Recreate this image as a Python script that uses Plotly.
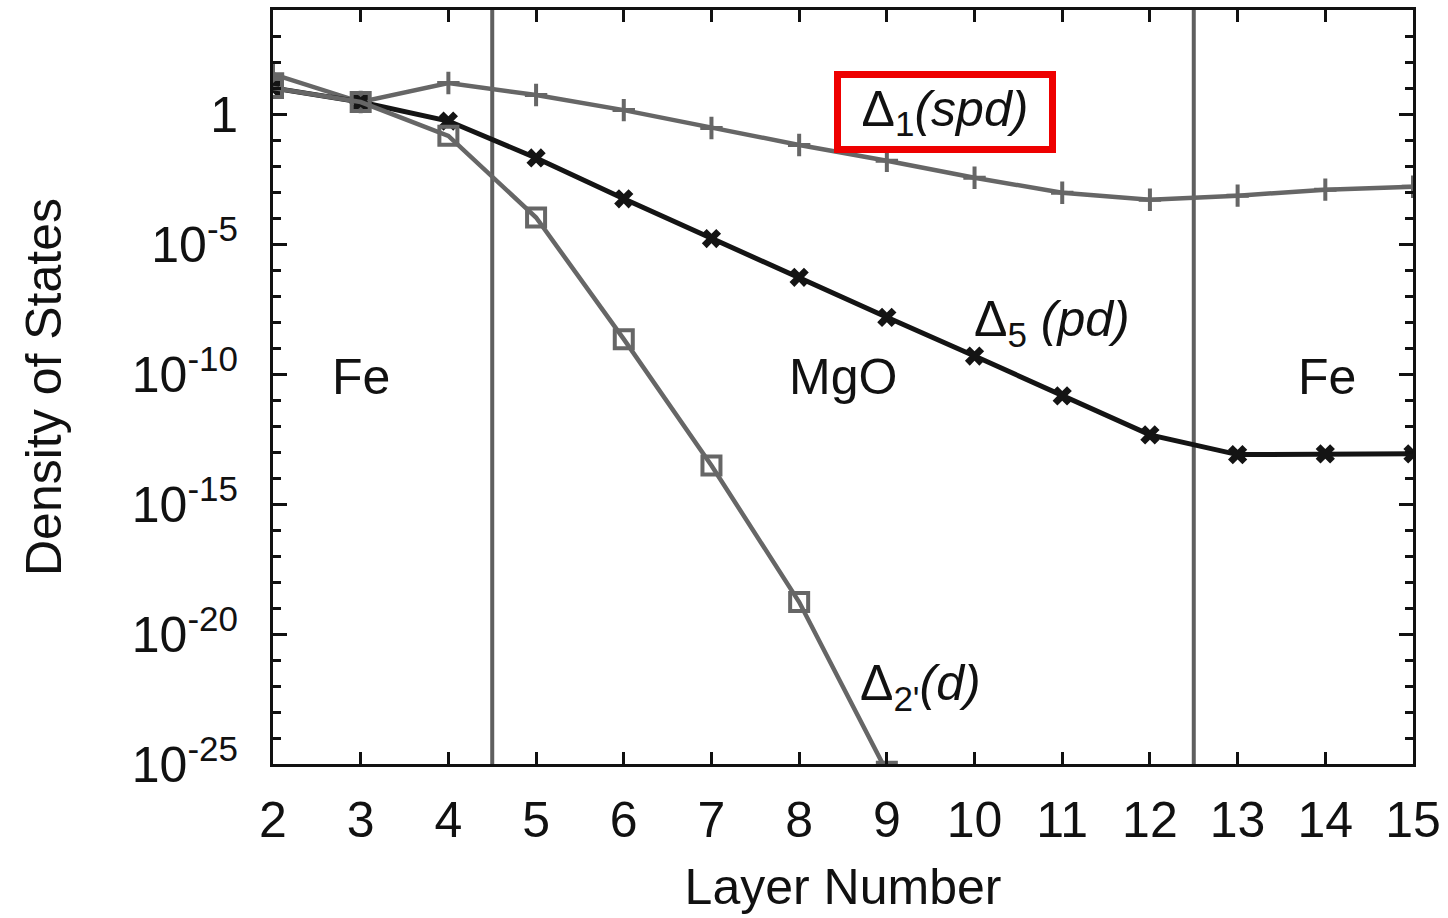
import plotly.graph_objects as go

# Layer positions through the Fe/MgO/Fe stack
layers = [2, 3, 4, 5, 6, 7, 8, 9, 10, 11, 12, 13, 14, 15]

# Decay of the tunnelling density of states, log10 values per layer
delta1_log = [1.53, 0.46, 1.19, 0.73, 0.15, -0.54, -1.19, -1.80, -2.45, -3.03, -3.30, -3.14, -2.91, -2.80]
delta5_log = [1.00, 0.46, -0.27, -1.69, -3.26, -4.79, -6.28, -7.82, -9.31, -10.84, -12.34, -13.10, -13.07, -13.07]
delta2_layers = [2, 3, 4, 5, 6, 7, 8, 9]
delta2_log = [1.00, 0.46, -0.84, -3.98, -8.66, -13.52, -18.77, -25.3]

# Fe/MgO interfaces
interfaces = [4.5, 12.5]

# Y axis labels
ytick_exps = [0, -5, -10, -15, -20, -25]
ytick_text = ["1", "10<sup>-5</sup>", "10<sup>-10</sup>", "10<sup>-15</sup>",
              "10<sup>-20</sup>", "10<sup>-25</sup>"]

GRAY = "#666666"
BLACK = "#141414"
FONT = "Liberation Sans, Arial, sans-serif"

fig = go.Figure()

fig.add_trace(go.Scatter(
    x=layers, y=[10 ** v for v in delta1_log], mode="lines+markers",
    line=dict(color=GRAY, width=4.5),
    marker=dict(symbol="cross-thin", size=16, line=dict(color=GRAY, width=4)),
    name="Δ1", cliponaxis=True))

fig.add_trace(go.Scatter(
    x=layers, y=[10 ** v for v in delta5_log], mode="lines+markers",
    line=dict(color=BLACK, width=5),
    marker=dict(symbol="x", size=17, color=BLACK, line=dict(width=0)),
    name="Δ5", cliponaxis=True))

fig.add_trace(go.Scatter(
    x=delta2_layers, y=[10 ** v for v in delta2_log], mode="lines+markers",
    line=dict(color=GRAY, width=4.5),
    marker=dict(symbol="square-open", size=18, color=GRAY, line=dict(color=GRAY, width=4)),
    name="Δ2'", cliponaxis=True))

for xv in interfaces:
    fig.add_shape(type="line", xref="x", yref="paper", x0=xv, x1=xv, y0=0, y1=1,
                  line=dict(color="#5f5f5f", width=4), layer="below")

label_font = dict(family=FONT, size=50, color="#111111")
annotations = [
    dict(x=3.0, y=-10.1, text="Fe"),
    dict(x=8.5, y=-10.1, text="MgO"),
    dict(x=14.02, y=-10.1, text="Fe"),
    dict(x=10.88, y=-8.0, text="Δ<sub>5</sub> <i>(pd)</i>"),
    dict(x=9.38, y=-22.0, text="Δ<sub>2'</sub><i>(d)</i>"),
]
for a in annotations:
    fig.add_annotation(xref="x", yref="y", showarrow=False, font=label_font, **a)

fig.add_annotation(xref="x", yref="y", x=9.66, y=0.08, showarrow=False,
                   text="Δ<sub>1</sub><i>(spd)</i>", font=label_font,
                   width=196, height=56, align="center", valign="middle",
                   bordercolor="#ee0000", borderwidth=7, borderpad=6,
                   bgcolor="rgba(255,255,255,0)")

minor_exps = [e for e in range(-25, 5) if e % 5 != 0]

fig.update_layout(
    width=1448, height=918,
    margin=dict(l=273, r=35, t=7, b=154),
    paper_bgcolor="white", plot_bgcolor="white",
    showlegend=False,
    font=dict(family=FONT, size=50, color="#111111"),
    xaxis=dict(
        range=[2, 15], tickmode="array", tickvals=layers,
        ticks="inside", ticklen=12, tickwidth=3, tickcolor="#111111",
        showline=True, linecolor="#111111", linewidth=3, mirror="ticks",
        showgrid=False, zeroline=False,
        tickfont=dict(family=FONT, size=50, color="#111111"),
        ticklabelstandoff=10,
        title=dict(text="Layer Number", font=dict(family=FONT, size=50, color="#111111"),
                   standoff=22),
    ),
    yaxis=dict(
        type="log", range=[-25, 4], tickmode="array",
        tickvals=[10 ** e for e in ytick_exps], ticktext=ytick_text,
        ticks="inside", ticklen=14, tickwidth=3, tickcolor="#111111",
        minor=dict(tickmode="array", tickvals=[10 ** e for e in minor_exps],
                   ticks="inside", ticklen=8, tickwidth=3, tickcolor="#111111"),
        showline=True, linecolor="#111111", linewidth=3, mirror="ticks",
        showgrid=False, zeroline=False,
        tickfont=dict(family=FONT, size=50, color="#111111"),
        ticklabelstandoff=22,
        title=dict(text="Density of States", font=dict(family=FONT, size=50, color="#111111"),
                   standoff=55),
    ),
)

fig.write_html("out.html")
